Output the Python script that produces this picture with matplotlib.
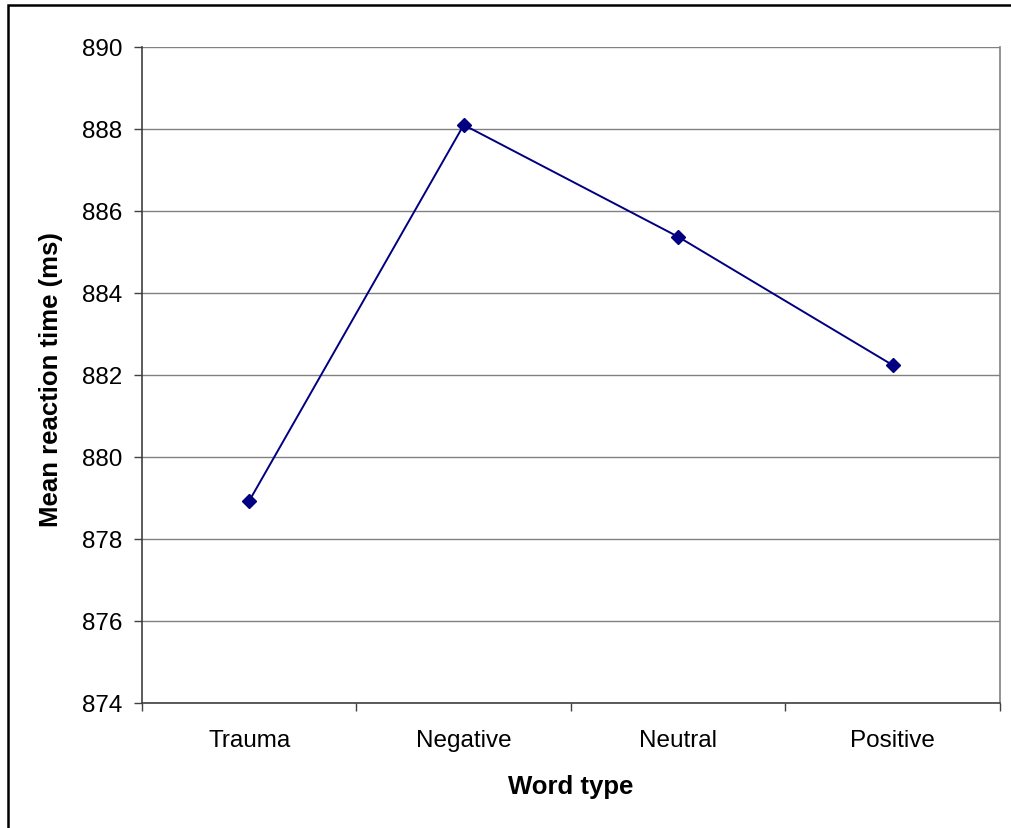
import matplotlib
matplotlib.use("Agg")
import matplotlib.pyplot as plt
from matplotlib.patches import Rectangle
import numpy as np

categories = ["Trauma", "Negative", "Neutral", "Positive"]
mean_rt = [878.93, 888.10, 885.37, 882.24]
y_ticks = [874, 876, 878, 880, 882, 884, 886, 888, 890]

plt.rcParams['font.family'] = ['Liberation Sans', 'DejaVu Sans']

fig = plt.figure(figsize=(10.12, 8.29), dpi=100)
ax = fig.add_axes([142/1012, 1-704/829, 858/1012, 656/829])

x = np.arange(len(categories))
ax.plot(x, mean_rt, color='#000080', lw=1.4, marker='D', ms=7, mfc='#000080', mec='#000080')

ax.set_xlim(-0.5, len(categories) - 0.5)
ax.set_ylim(874, 890)
ax.set_yticks(y_ticks)
ax.set_yticklabels([str(v) for v in y_ticks], fontsize=17.5)
ax.yaxis.grid(True, color='#808080', lw=1)
ax.set_axisbelow(True)

# category boundaries get the tick marks, labels sit in the middle
ax.set_xticks(np.arange(-0.5, len(categories)), labels=[])
ax.set_xticks(x, labels=categories, minor=True, fontsize=17.5)
ax.tick_params(axis='x', which='major', direction='out', length=6, width=1, color='#404040')
ax.tick_params(axis='x', which='minor', length=0, pad=19)
ax.tick_params(axis='y', direction='out', length=6, width=1, color='#404040', pad=8)

for s in ['left', 'bottom']:
    ax.spines[s].set_color('#404040')
    ax.spines[s].set_linewidth(1.2)
ax.spines['right'].set_color('#808080')
ax.spines['right'].set_linewidth(1.2)
ax.spines['top'].set_visible(False)

fig.text(51/1012, 1-380/829, "Mean reaction time (ms)", rotation=90, ha='center', va='center',
         fontsize=18.5, fontweight='bold')
fig.text(571/1012, 1-787/829, "Word type", ha='center', va='center', fontsize=18.5, fontweight='bold')

# outer chart border (runs off the right and bottom edges)
fig.patches.append(Rectangle((8/1012, -0.1), 1.1, 1.1 - 6/829, transform=fig.transFigure,
                             fill=False, ec='black', lw=1.8))

fig.savefig("out.png", dpi=100)
